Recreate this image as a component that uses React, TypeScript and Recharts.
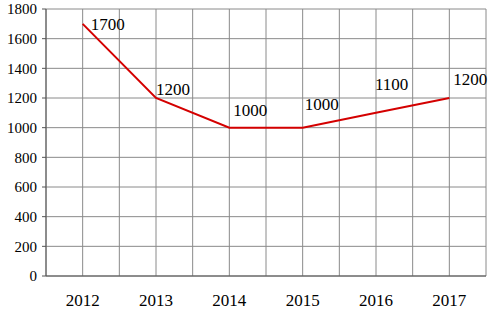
import React from 'react';
import { LineChart, Line, XAxis, YAxis, CartesianGrid, LabelList } from 'recharts';

const years = ['2012', '2013', '2014', '2015', '2016', '2017'];
const values = [1700, 1200, 1000, 1000, 1100, 1200];
const yTicks = [0, 200, 400, 600, 800, 1000, 1200, 1400, 1600, 1800];

const data = years.map((year, i) => ({ year, value: values[i] }));

// label nudges per point (dx, dy from the point), as in the original
const labelNudge = [
  [8, 0],
  [0, -9],
  [4, -18],
  [2, -24],
  [-1, -29],
  [4, -19],
];

const FONT = 'Liberation Serif, DejaVu Serif, serif';

const PointLabel = (props: any) => {
  const { x, y, value, index } = props;
  const [dx, dy] = labelNudge[index] || [4, -10];
  return (
    <text x={x + dx} y={y + dy} dy="0.35em" style={{ fontFamily: FONT, fontSize: 17 }} fill="#000">
      {value}
    </text>
  );
};

export default function App() {
  return (
    <div style={{ position: 'fixed', left: 0, top: 0, background: '#fff', fontFamily: FONT }}>
      <LineChart width={493} height={312} data={data} margin={{ top: 9, right: 7, bottom: 0, left: 0 }}>
        <CartesianGrid
          stroke="#8a8a8a"
          strokeWidth={1}
          verticalCoordinatesGenerator={({ offset }: any) =>
            Array.from({ length: 13 }, (_, i) => offset.left + (i * offset.width) / 12)
          }
        />
        <XAxis
          dataKey="year"
          scale="band"
          height={36}
          tickLine={false}
          axisLine={{ stroke: '#555' }}
          tickMargin={12}
          tick={{ fill: '#000', fontSize: 17, style: { fontFamily: FONT } }}
          interval={0}
        />
        <YAxis
          width={46}
          domain={[0, 1800]}
          ticks={yTicks}
          interval={0}
          tickSize={4}
          tickMargin={5}
          tickLine={{ stroke: '#555' }}
          axisLine={{ stroke: '#555' }}
          tick={{ fill: '#000', fontSize: 15, style: { fontFamily: FONT } }}
        />
        <Line
          dataKey="value"
          stroke="#d40000"
          strokeWidth={2}
          dot={false}
          isAnimationActive={false}
        >
          <LabelList dataKey="value" content={<PointLabel />} />
        </Line>
      </LineChart>
    </div>
  );
}
